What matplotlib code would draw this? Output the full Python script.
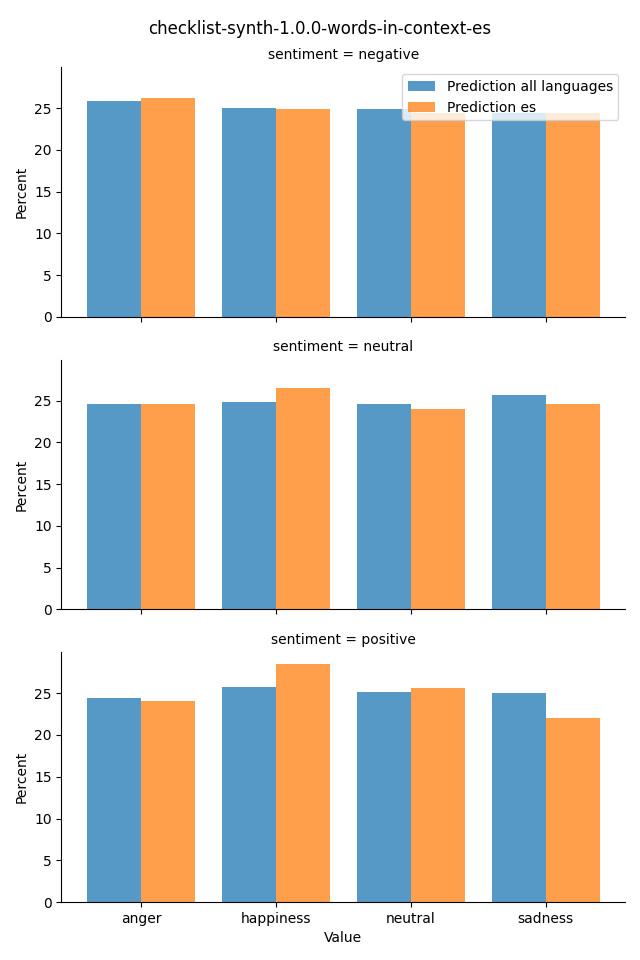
import numpy as np
import matplotlib.pyplot as plt

# Values
categories = ['anger', 'happiness', 'neutral', 'sadness']
sentiments = ['negative', 'neutral', 'positive']
series_names = ['Prediction all languages', 'Prediction es']

all_languages = {
    'negative': [25.9, 25.04, 24.88, 24.36],
    'neutral': [24.64, 24.88, 24.64, 25.72],
    'positive': [24.4, 25.72, 25.12, 25.0],
}
es = {
    'negative': [26.26, 24.9, 24.44, 24.36],
    'neutral': [24.64, 26.56, 24.04, 24.64],
    'positive': [24.04, 28.47, 25.6, 22.0],
}

colors = ['#1f77b4', '#ff7f0e']

fig, axes = plt.subplots(3, 1, figsize=(6.4, 9.6), dpi=100, sharex=True, sharey=True)
fig.subplots_adjust(left=0.096, right=0.977, top=0.930, bottom=0.0604, hspace=0.172)

x = np.arange(len(categories))
w = 0.4
for ax, s in zip(axes, sentiments):
    ax.bar(x - w / 2, all_languages[s], width=w, color=colors[0], alpha=0.75,
           label=series_names[0])
    ax.bar(x + w / 2, es[s], width=w, color=colors[1], alpha=0.75,
           label=series_names[1])
    ax.set_title(f'sentiment = {s}', fontsize=10)
    ax.set_ylabel('Percent')
    ax.spines['top'].set_visible(False)
    ax.spines['right'].set_visible(False)

axes[0].legend(loc='upper right')
axes[-1].set_xticks(x)
axes[-1].set_xticklabels(categories)
axes[-1].set_xlabel('Value')
fig.suptitle('checklist-synth-1.0.0-words-in-context-es', fontsize=12, y=0.979)

plt.savefig('out.png')
plt.close()
